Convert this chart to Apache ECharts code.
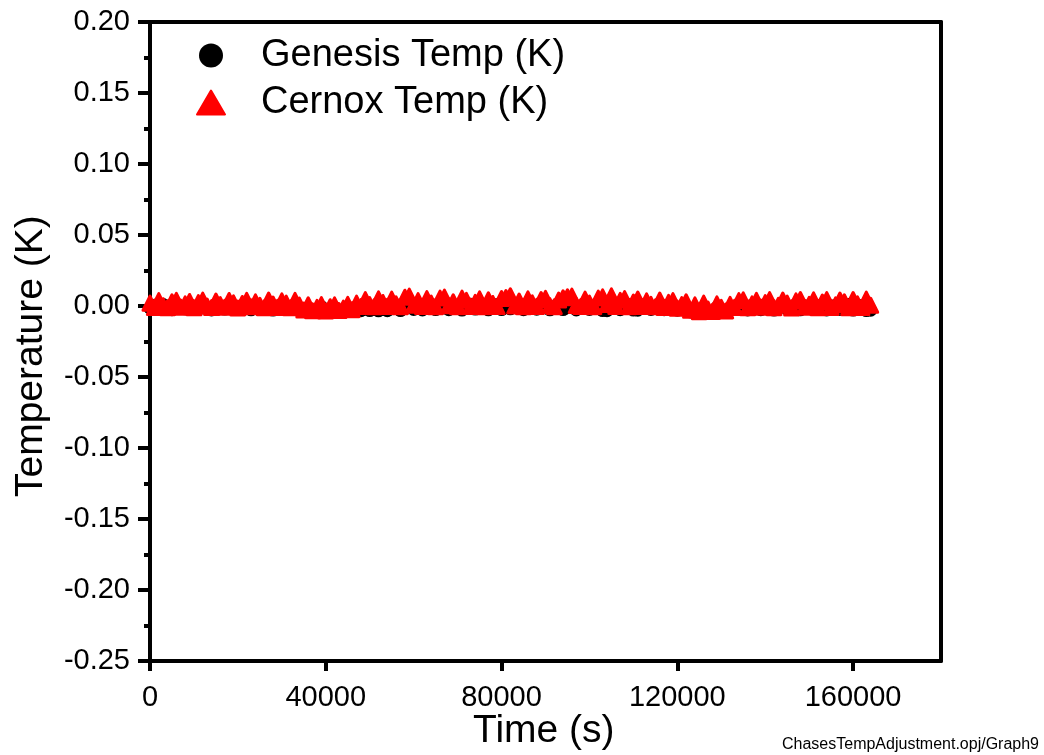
<!DOCTYPE html>
<html>
<head>
<meta charset="utf-8">
<script src="https://cdn.jsdelivr.net/npm/echarts@6/dist/echarts.min.js"></script>
<style>
html,body{margin:0;padding:0;background:#fff;}
#c{width:1044px;height:755px;}
</style>
</head>
<body>
<div id="c"></div>
<script>
// Time stamps (s)
var times = [0,1000,2000,3000,4000,5000,6000,7000,8000,9000,10000,11000,12000,13000,14000,15000,16000,17000,18000,19000,
20000,21000,22000,23000,24000,25000,26000,27000,28000,29000,30000,31000,32000,33000,34000,35000,36000,37000,38000,39000,
40000,41000,42000,43000,44000,45000,46000,47000,48000,49000,50000,51000,52000,53000,54000,55000,56000,57000,58000,59000,
60000,61000,62000,63000,64000,65000,66000,67000,68000,69000,70000,71000,72000,73000,74000,75000,76000,77000,78000,79000,
80000,81000,82000,83000,84000,85000,86000,87000,88000,89000,90000,91000,92000,93000,94000,95000,96000,97000,98000,99000,
100000,101000,102000,103000,104000,105000,106000,107000,108000,109000,110000,111000,112000,113000,114000,115000,116000,117000,118000,119000,
120000,121000,122000,123000,124000,125000,126000,127000,128000,129000,130000,131000,132000,133000,134000,135000,136000,137000,138000,139000,
140000,141000,142000,143000,144000,145000,146000,147000,148000,149000,150000,151000,152000,153000,154000,155000,156000,157000,158000,159000,
160000,161000,162000,163000,164000];

// Genesis Temp (K)
var genesis = [
-0.0015,0.0005,-0.0022,0.0010,-0.0008,-0.0026,0.0008,-0.0012,-0.0020,0.0012,
-0.0005,-0.0024,0.0003,-0.0016,-0.0028,0.0009,-0.0006,-0.0022,0.0011,-0.0014,
-0.0025,0.0004,-0.0009,-0.0027,0.0010,-0.0013,-0.0020,0.0006,-0.0029,-0.0007,
0.0012,-0.0023,-0.0010,0.0005,-0.0026,
-0.0035,-0.0015,-0.0040,-0.0022,-0.0005,-0.0038,-0.0020,-0.0010,-0.0041,-0.0025,-0.0008,-0.0036,
-0.0028,-0.0033,0.0005,-0.0032,-0.0010,-0.0034,0.0010,-0.0033,-0.0020,0.0008,
-0.0032,-0.0015,0.0015,-0.0024,0.0002,-0.0028,-0.0012,0.0012,-0.0025,-0.0006,
0.0010,-0.0026,-0.0018,0.0006,-0.0029,-0.0010,0.0013,-0.0022,-0.0004,0.0008,
-0.0027,-0.0014,0.0011,-0.0025,0.0002,-0.0020,-0.0011,0.0014,-0.0026,-0.0008,
0.0009,-0.0023,-0.0016,0.0012,-0.0027,-0.0003,0.0010,-0.0025,-0.0012,0.0007,
-0.0028,-0.0006,0.0013,-0.0024,-0.0015,0.0004,-0.0032,-0.0033,-0.0010,0.0011,
-0.0026,-0.0007,0.0008,-0.0029,-0.0030,-0.0013,0.0005,-0.0024,-0.0018,
-0.0010,-0.0026,0.0005,-0.0018,-0.0030,-0.0005,-0.0022,
-0.0042,-0.0015,-0.0046,-0.0008,-0.0036,-0.0044,-0.0010,-0.0028,-0.0040,-0.0016,
-0.0024,0.0008,-0.0012,-0.0028,0.0006,-0.0015,-0.0026,0.0010,-0.0008,-0.0029,
-0.0014,0.0007,-0.0023,-0.0010,0.0011,-0.0027,-0.0016,0.0004,-0.0025,-0.0009,
0.0012,-0.0028,-0.0013,0.0006,-0.0024,-0.0007,0.0010,-0.0029,-0.0015,0.0003,
-0.0032,-0.0030];

// Cernox Temp (K)
var cernox = [
0.0020,-0.0010,0.0038,0.0002,-0.0012,0.0030,0.0040,-0.0008,0.0015,0.0032,
-0.0013,0.0024,0.0041,0.0000,-0.0011,0.0035,0.0010,-0.0009,0.0039,0.0022,
-0.0014,0.0018,0.0040,-0.0006,0.0029,0.0005,-0.0012,0.0042,0.0014,-0.0010,
0.0036,0.0020,-0.0013,0.0040,0.0006,
-0.0028,0.0009,-0.0034,-0.0010,0.0010,-0.0035,-0.0005,0.0008,-0.0032,-0.0015,0.0012,-0.0026,
0.0020,-0.0004,0.0045,0.0010,-0.0005,0.0050,0.0025,-0.0003,0.0048,0.0015,
-0.0005,0.0062,0.0070,0.0005,0.0038,-0.0004,0.0052,0.0020,-0.0005,0.0056,
0.0063,0.0002,0.0030,-0.0005,0.0055,0.0040,-0.0003,0.0026,0.0050,-0.0005,
0.0044,0.0018,-0.0004,0.0053,0.0060,0.0072,0.0000,0.0035,-0.0005,0.0050,
0.0022,-0.0003,0.0046,0.0054,0.0003,-0.0005,0.0042,0.0058,0.0065,0.0070,
0.0004,-0.0004,0.0048,0.0020,-0.0005,0.0056,0.0064,0.0010,0.0071,-0.0003,
0.0040,0.0052,-0.0005,0.0028,0.0049,-0.0004,0.0036,0.0012,-0.0006,
0.0042,-0.0010,0.0026,0.0038,-0.0015,0.0010,0.0030,
-0.0030,0.0008,-0.0040,0.0020,-0.0022,-0.0038,0.0015,-0.0010,-0.0035,0.0012,
-0.0010,0.0038,0.0043,-0.0013,0.0015,0.0040,-0.0008,0.0024,0.0045,-0.0012,
0.0005,0.0042,0.0020,-0.0014,0.0036,0.0046,-0.0009,0.0012,0.0043,-0.0013,
0.0028,0.0045,-0.0010,0.0008,0.0042,0.0030,-0.0012,0.0046,0.0015,-0.0011,
0.0048,0.0005];

var xTicks = [0, 40000, 80000, 120000, 160000];

function pairs(ys) {
  var out = [];
  for (var i = 0; i < ys.length; i++) out.push([times[i], ys[i]]);
  return out;
}

var FONT = '"Liberation Sans", Arial, sans-serif';
var chart = echarts.init(document.getElementById('c'), null, {renderer: 'canvas'});
chart.setOption({
  animation: false,
  backgroundColor: '#ffffff',
  grid: {left: 150, right: 103, top: 22, bottom: 94, containLabel: false},
  legend: {
    orient: 'vertical',
    left: 191,
    top: 27,
    itemWidth: 28,
    itemHeight: 24,
    itemGap: 0,
    selectedMode: false,
    textStyle: {fontFamily: FONT, fontSize: 38, color: '#000', lineHeight: 47, padding: [0, 0, 0, 31]},
    data: ['Genesis Temp (K)', 'Cernox Temp (K)']
  },
  xAxis: [{
    type: 'value',
    min: 0, max: 180000, interval: 40000,
    axisLine: {show: true, onZero: false, lineStyle: {color: '#000', width: 4}},
    axisTick: {show: true, inside: false, length: 10, lineStyle: {color: '#000', width: 4}, customValues: xTicks},
    axisLabel: {show: true, margin: 22, fontFamily: FONT, fontSize: 29, color: '#000', customValues: xTicks,
      formatter: function (v) { return String(v); }},
    splitLine: {show: false}
  }, {
    type: 'value', position: 'top',
    min: 0, max: 180000,
    axisLine: {show: true, onZero: false, lineStyle: {color: '#000', width: 4}},
    axisTick: {show: false}, axisLabel: {show: false}, splitLine: {show: false}
  }],
  yAxis: [{
    type: 'value',
    min: -0.25, max: 0.20, interval: 0.05,
    axisLine: {show: true, onZero: false, lineStyle: {color: '#000', width: 4}},
    axisTick: {show: true, inside: false, length: 12, lineStyle: {color: '#000', width: 4}},
    minorTick: {show: true, splitNumber: 2, length: 6, lineStyle: {color: '#000', width: 4}},
    axisLabel: {show: true, margin: 20, fontFamily: FONT, fontSize: 29, color: '#000',
      formatter: function (v) { return v.toFixed(2); }},
    splitLine: {show: false},
    minorSplitLine: {show: false}
  }, {
    type: 'value', position: 'right',
    min: -0.25, max: 0.20,
    axisLine: {show: true, onZero: false, lineStyle: {color: '#000', width: 4}},
    axisTick: {show: false}, axisLabel: {show: false}, splitLine: {show: false}
  }],
  series: [{
    name: 'Genesis Temp (K)',
    type: 'scatter',
    symbol: 'circle',
    symbolSize: 13,
    itemStyle: {color: '#000000', opacity: 1},
    data: pairs(genesis),
    z: 2
  }, {
    name: 'Cernox Temp (K)',
    type: 'scatter',
    symbol: 'triangle',
    symbolSize: 14,
    itemStyle: {color: '#ff0000', opacity: 1, borderColor: '#ff0000', borderWidth: 3, borderJoin: 'round'},
    data: pairs(cernox),
    z: 3
  }],
  graphic: [{
    type: 'text',
    left: 473, top: 712,
    style: {text: 'Time (s)', font: '39px ' + FONT, fill: '#000'}
  }, {
    type: 'text',
    rotation: Math.PI / 2,
    x: 12, y: 497,
    style: {text: 'Temperature (K)', font: '39px ' + FONT, fill: '#000', textVerticalAlign: 'top'}
  }, {
    type: 'text',
    right: 5, top: 737,
    style: {text: 'ChasesTempAdjustment.opj/Graph9', font: '16px ' + FONT, fill: '#000'}
  }]
});
</script>
</body>
</html>
